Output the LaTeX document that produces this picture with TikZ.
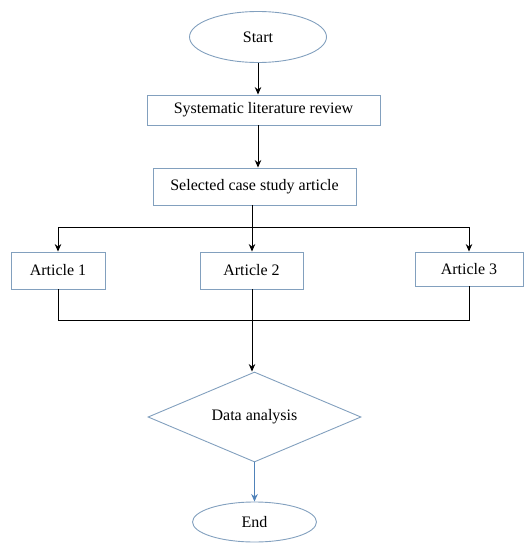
\documentclass[tikz,border=0pt]{standalone}
\usepackage{fontspec}
\setmainfont{Liberation Serif}
\usetikzlibrary{shapes.geometric,arrows.meta}
\definecolor{boxline}{RGB}{130,160,190}
\definecolor{flowblue}{RGB}{80,130,185}
\tikzset{
    stepbox/.style={draw=boxline,line width=0.9pt,rectangle,inner sep=0pt,font=\fontsize{16}{19}\selectfont},
    termbox/.style={draw=boxline,line width=0.9pt,ellipse,inner sep=0pt,font=\fontsize{16}{19}\selectfont},
    arr/.style={line width=1pt,-{Stealth[length=7.5pt,width=6.5pt]}},
    ln/.style={line width=1pt}
}
\begin{document}
\begin{tikzpicture}[x=1pt,y=-1pt]
    \useasboundingbox (0,0) rectangle (531,546);
    \node[termbox,minimum width=137pt,minimum height=51pt] (start) at (258,37) {Start};
    \node[stepbox,minimum width=233pt,minimum height=30pt] (review) at (263.5,110) {Systematic literature review};
    \node[stepbox,minimum width=203pt,minimum height=37pt] (select) at (254.5,186.5) {Selected case study article};
    \node[stepbox,minimum width=94pt,minimum height=37pt] (art1) at (58,270.5) {Article 1};
    \node[stepbox,minimum width=103pt,minimum height=37pt] (art2) at (251.5,270.5) {Article 2};
    \node[stepbox,minimum width=108pt,minimum height=34pt] (art3) at (469,269) {Article 3};
    \node[stepbox,diamond,minimum width=213pt,minimum height=90pt,aspect=2.4] (data) at (254.5,417) {Data analysis};
    \node[termbox,minimum width=124pt,minimum height=40pt] (end) at (254.5,522) {End};
    \coordinate (split) at (252,227);
    \coordinate (join) at (252,320);
    % top of the flow
    \draw[arr] (start.south) -- (start.south |- review.north);
    \draw[arr] (start.south |- review.south) -- (start.south |- select.north);
    % branch to the three articles
    \draw[arr] (select.south -| split) -- (art2.north -| split);
    \draw[ln] (split -| art1) -- (split -| art3);
    \draw[arr] (split -| art1) -- (art1.north);
    \draw[arr] (split -| art3) -- (art3.north);
    % merge again
    \draw[ln] (art1.south) -- (join -| art1) -- (join -| art3) -- (art3.south);
    \draw[arr] (art2.south -| split) -- (data.north -| split);
    \draw[arr,flowblue] (data.south) -- (end.north);
\end{tikzpicture}
\end{document}
